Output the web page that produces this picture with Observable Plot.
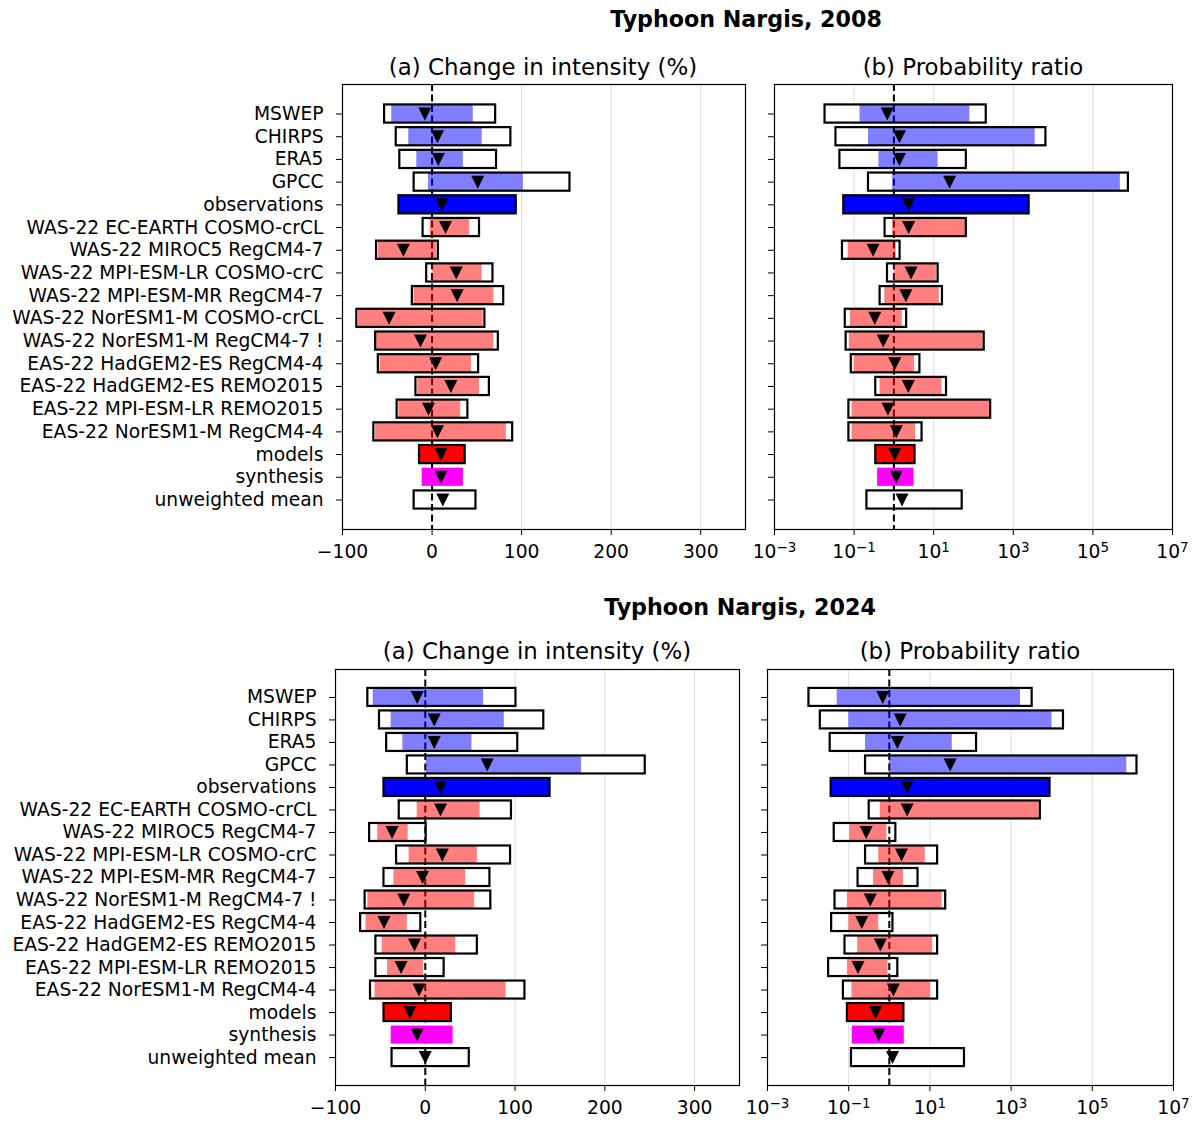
<!DOCTYPE html>
<html><head><meta charset="utf-8">
<script src="https://cdn.jsdelivr.net/npm/d3@7"></script>
<script src="https://cdn.jsdelivr.net/npm/@observablehq/plot@0.6"></script>
<style>
body{margin:0;background:#fff;font-family:"DejaVu Sans",sans-serif;}
#root{position:relative;width:1201px;height:1122px;overflow:hidden;background:#fff;}
.t{position:absolute;white-space:nowrap;transform:translate(-50%,-50%);color:#000;line-height:1;}
.title{font-weight:bold;font-size:22.2px}
.sub{font-size:22.9px}
.p{position:absolute}
</style></head><body><div id="root"></div>
<script>
// ---------- Data: 2008 ----------
const labels08 = ["MSWEP","CHIRPS","ERA5","GPCC","observations","WAS-22 EC-EARTH COSMO-crCL","WAS-22 MIROC5 RegCM4-7","WAS-22 MPI-ESM-LR COSMO-crC","WAS-22 MPI-ESM-MR RegCM4-7","WAS-22 NorESM1-M COSMO-crCL","WAS-22 NorESM1-M RegCM4-7 !","EAS-22 HadGEM2-ES RegCM4-4","EAS-22 HadGEM2-ES REMO2015","EAS-22 MPI-ESM-LR REMO2015","EAS-22 NorESM1-M RegCM4-4","models","synthesis","unweighted mean"];
const kinds08 = ["obs","obs","obs","obs","obsSyn","model","model","model","model","model","model","model","model","model","model","modelSyn","syn","mean"];
const int08Best = [-8,6,7,51,11,15,-32,27,28,-48,-13,4,21,-4,6,10,10,12];
const int08Lo   = [-53,-40,-36,-20,-37,-10,-62,-6,-22,-84,-63,-60,-18,-39,-65,-14,-11,-20];
const int08Hi   = [71,88,72,154,94,53,7,68,80,59,74,52,64,40,90,37,35,49];
const int08NvLo = [-45,-26,-17,-4,null,-2,-60,1,-20,-82,-62,-58,-16,-37,-63,null,null,null];
const int08NvHi = [46,56,35,102,null,42,5,56,69,57,69,44,53,32,83,null,null,null];
const pr08Best = [0.68,1.38,1.38,25,2.34,2.34,0.30,2.7,2.0,0.33,0.54,1.05,2.3,0.71,1.15,1.05,1.15,1.6];
const pr08Lo   = [0.0186,0.035,0.044,0.23,0.055,0.60,0.051,0.69,0.45,0.060,0.063,0.085,0.35,0.074,0.074,0.35,0.39,0.21];
const pr08Hi   = [209,6600,66,7.8e5,2500,66,1.43,12.9,16.6,2.09,186,4.5,21,270,5.1,3.4,3.2,52];
const pr08NvLo = [0.141,0.23,0.42,0.93,null,0.93,0.071,1.05,0.59,0.081,0.076,0.10,0.45,0.089,0.089,null,null,null];
const pr08NvHi = [81,3550,12.9,4.9e5,null,64.6,1.15,11.7,13.8,1.62,174,3.3,16.2,251,3.5,null,null,null];

// ---------- Data: 2024 ----------
const labels24 = ["MSWEP","CHIRPS","ERA5","GPCC","observations","WAS-22 EC-EARTH COSMO-crCL","WAS-22 MIROC5 RegCM4-7","WAS-22 MPI-ESM-LR COSMO-crC","WAS-22 MPI-ESM-MR RegCM4-7","WAS-22 NorESM1-M RegCM4-7 !","EAS-22 HadGEM2-ES RegCM4-4","EAS-22 HadGEM2-ES REMO2015","EAS-22 MPI-ESM-LR REMO2015","EAS-22 NorESM1-M RegCM4-4","models","synthesis","unweighted mean"];
const kinds24 = ["obs","obs","obs","obs","obsSyn","model","model","model","model","model","model","model","model","model","modelSyn","syn","mean"];
const int24Best = [-9,10,10,69,17,17,-37,19,-3,-24,-46,-12,-27,-7,-17,-9,0];
const int24Lo   = [-64,-51,-43,-20,-46,-29,-62,-32,-46,-67,-72,-55,-55,-61,-46,-38,-37];
const int24Hi   = [101,132,103,245,139,96,1,95,72,73,-5,58,21,111,29,31,49];
const int24NvLo = [-58,-38,-25,1,null,-9,-53,-18,-35,-64,-66,-48,-42,-56,null,null,null];
const int24NvHi = [65,88,52,174,null,61,-19,58,45,55,-20,34,-2,90,null,null,null];
const pr24Best = [0.69,1.86,1.58,31.6,2.75,2.75,0.27,2.0,0.93,0.34,0.21,0.60,0.17,1.26,0.46,0.55,1.2];
const pr24Lo   = [0.0105,0.020,0.035,0.26,0.037,0.32,0.044,0.26,0.17,0.046,0.038,0.081,0.032,0.074,0.093,0.123,0.117];
const pr24Hi   = [3300,19500,141,1.26e6,9100,5250,1.45,15.5,5.1,24.5,1.23,15.5,1.62,15.5,2.29,2.34,71];
const pr24NvLo = [0.052,0.10,0.26,1.0,null,0.60,0.105,0.55,0.41,0.093,0.10,0.166,0.093,0.12,null,null,null];
const pr24NvHi = [1700,10200,35.5,7.1e5,null,4900,0.87,7.7,2.24,20,0.55,11.7,0.93,10.5,null,null,null];

// ---------- Axis ticks ----------
const linTicks = [-100,0,100,200,300];
const linGrid = [100,200,300];
const logTicks = [1e-3,1e-1,1e1,1e3,1e5,1e7];
const logGrid = [1e-1,1e1,1e3,1e5];

const nvColor = {obs:"blue", model:"red"};
const solidColor = {obsSyn:"blue", modelSyn:"red", syn:"magenta"};

function rowsOf(labels, kinds, lo, hi, nvLo, nvHi, best) {
  return labels.map((label,i) => ({label, kind:kinds[i], lo:lo[i], hi:hi[i], nvLo:nvLo[i], nvHi:nvHi[i], best:best[i]}));
}
const logFmt = d => "10^" + Math.round(Math.log10(d));
const linFmt = d => d < 0 ? "\u2212" + Math.abs(d) : String(d);

const triDown = {draw(ctx, size){ const a = Math.sqrt(size/Math.PI)*1.3; ctx.moveTo(-a,-a); ctx.lineTo(a,-a); ctx.lineTo(0,a); ctx.closePath(); }};

const root = document.getElementById("root");

function panel({rows, log, frameLeft, frameTop, frameW, frameH, mLeft, mRight, showLabels, po}) {
  const mTop = 10, mBottom = 45;
  const boxed = rows.filter(d => d.kind === "obs" || d.kind === "model" || d.kind === "mean");
  const nv = rows.filter(d => d.nvLo != null);
  const solid = rows.filter(d => solidColor[d.kind]);
  const outlined = rows.filter(d => d.kind !== "syn");
  const chart = Plot.plot({
    width: mLeft + frameW + mRight,
    height: mTop + frameH + mBottom,
    marginLeft: mLeft, marginRight: mRight, marginTop: mTop, marginBottom: mBottom,
    style: {fontFamily: "DejaVu Sans", fontSize: "18.7px", background: "transparent", overflow: "visible", color: "black"},
    x: log ? {type: "log", domain: [1e-3, 1e7]} : {type: "linear", domain: [-100, 350]},
    y: {type: "band", domain: rows.map(d => d.label), paddingInner: 0.2, paddingOuter: po, align: 0.5, round: false},
    color: {type: "identity"},
    marks: [
      Plot.gridX(log ? logGrid : linGrid, {stroke: "#dcdcdc", strokeOpacity: 1, strokeWidth: 1}),
      Plot.barX(boxed, {x1: "lo", x2: "hi", y: "label", fill: "white"}),
      Plot.ruleX([log ? 1 : 0], {stroke: "black", strokeWidth: 2, strokeDasharray: "7,3.5"}),
      Plot.barX(nv, {x1: "nvLo", x2: "nvHi", y: "label", fill: d => nvColor[d.kind], fillOpacity: 0.5}),
      Plot.barX(solid, {x1: "lo", x2: "hi", y: "label", fill: d => solidColor[d.kind]}),
      Plot.barX(outlined, {x1: "lo", x2: "hi", y: "label", fill: "none", stroke: "black", strokeWidth: 2.2}),
      Plot.dot(rows, {x: "best", y: "label", symbol: triDown, r: 5, fill: "black", stroke: "none"}),
      Plot.frame({stroke: "black", strokeWidth: 1.2}),
      Plot.axisY({tickSize: 6, tickPadding: 13, fontSize: 18.7, label: null, tickFormat: showLabels ? (d => d) : (() => "")}),
      Plot.axisX({ticks: log ? logTicks : linTicks, tickFormat: log ? logFmt : linFmt, tickSize: 6, tickPadding: 9, fontSize: 18.7, label: null})
    ]
  });
  // render powers of ten with a raised exponent
  d3.select(chart).selectAll("text").each(function() {
    const m = /^10\^(-?\d+)$/.exec(this.textContent);
    if (!m) return;
    const sel = d3.select(this);
    sel.text(null);
    sel.append("tspan").text("10");
    sel.append("tspan").attr("dy", "-0.45em").attr("font-size", "0.72em").text(m[1].replace("-", "\u2212"));
  });
  const div = document.createElement("div");
  div.className = "p";
  div.style.left = (frameLeft - mLeft) + "px";
  div.style.top = (frameTop - mTop) + "px";
  div.style.width = (mLeft + frameW + mRight) + "px";
  div.appendChild(chart);
  root.appendChild(div);
}

function text(str, x, y, cls) {
  const el = document.createElement("div");
  el.className = "t " + cls;
  el.textContent = str;
  el.style.left = x + "px";
  el.style.top = y + "px";
  root.appendChild(el);
}

const rows08i = rowsOf(labels08, kinds08, int08Lo, int08Hi, int08NvLo, int08NvHi, int08Best);
const rows08p = rowsOf(labels08, kinds08, pr08Lo, pr08Hi, pr08NvLo, pr08NvHi, pr08Best);
const rows24i = rowsOf(labels24, kinds24, int24Lo, int24Hi, int24NvLo, int24NvHi, int24Best);
const rows24p = rowsOf(labels24, kinds24, pr24Lo, pr24Hi, pr24NvLo, pr24NvHi, pr24Best);

panel({rows: rows08i, log: false, frameLeft: 342, frameTop: 84, frameW: 403, frameH: 445, mLeft: 342, mRight: 10, showLabels: true, po: 0.9});
panel({rows: rows08p, log: true, frameLeft: 774, frameTop: 84, frameW: 398, frameH: 445, mLeft: 20, mRight: 25, showLabels: false, po: 0.9});
panel({rows: rows24i, log: false, frameLeft: 335, frameTop: 669, frameW: 404, frameH: 416, mLeft: 335, mRight: 10, showLabels: true, po: 0.84});
panel({rows: rows24p, log: true, frameLeft: 767, frameTop: 669, frameW: 406, frameH: 416, mLeft: 20, mRight: 25, showLabels: false, po: 0.84});

text("Typhoon Nargis, 2008", 746, 19, "title");
text("(a) Change in intensity (%)", 543, 67, "sub");
text("(b) Probability ratio", 973, 67, "sub");
text("Typhoon Nargis, 2024", 740, 607, "title");
text("(a) Change in intensity (%)", 537, 651, "sub");
text("(b) Probability ratio", 970, 651, "sub");
</script></body></html>
